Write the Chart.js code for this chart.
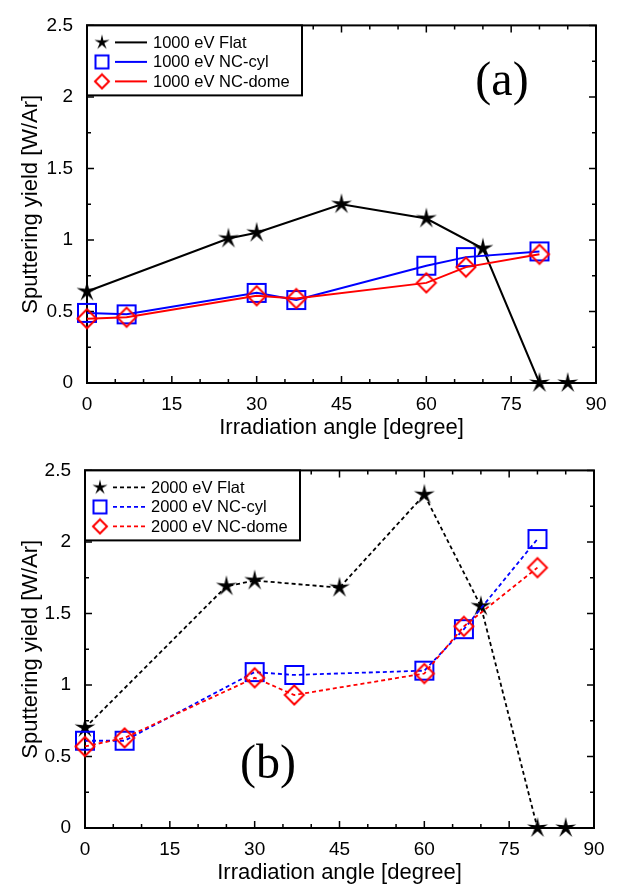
<!DOCTYPE html>
<html>
<head>
<meta charset="utf-8">
<script src="https://cdn.jsdelivr.net/npm/chart.js@4.4.0/dist/chart.umd.min.js"></script>
<style>
  html, body { margin: 0; padding: 0; background: #fff; }
  #wrap { position: relative; width: 627px; height: 890px; }
  .panel { position: absolute; left: 0; width: 627px; height: 445px; }
</style>
</head>
<body>
<div id="wrap">
  <div class="panel" style="top:0"><canvas id="chartA" width="627" height="445"></canvas></div>
  <div class="panel" style="top:445px"><canvas id="chartB" width="627" height="445"></canvas></div>
</div>
<script>
// incidence angles (degree)
const anglesFlat = [0, 25, 30, 45, 60, 70, 80, 85];
const anglesNC = [0, 7, 30, 37, 60, 67, 80];

// sputtering yield [W/Ar], 1000 eV
const flat1000 = [0.64, 1.01, 1.05, 1.25, 1.15, 0.94, 0, 0];
const cyl1000 = [0.49, 0.48, 0.63, 0.58, 0.82, 0.88, 0.92];
const dome1000 = [0.45, 0.46, 0.61, 0.59, 0.70, 0.81, 0.90];

// sputtering yield [W/Ar], 2000 eV
const flat2000 = [0.70, 1.69, 1.73, 1.68, 2.33, 1.55, 0, 0];
const cyl2000 = [0.61, 0.61, 1.09, 1.07, 1.10, 1.39, 2.02];
const dome2000 = [0.57, 0.63, 1.05, 0.93, 1.08, 1.41, 1.82];

const xTicks = [0, 15, 30, 45, 60, 75, 90];
const yTicks = [0, 0.5, 1, 1.5, 2, 2.5];

Chart.defaults.font.family = "'Liberation Sans', Arial, Helvetica, sans-serif";
Chart.defaults.color = '#000';

// marker sprites, used as pointStyle
function makeMark(kind, size, color, lw) {
    const c = document.createElement('canvas');
    const s = 2 * Math.ceil(size + lw);
    c.width = c.height = s;
    const g = c.getContext('2d');
    const m = s / 2;
    g.lineWidth = lw;
    g.strokeStyle = color;
    g.fillStyle = color;
    g.beginPath();
    if (kind === 'star') {
        for (let i = 0; i < 10; i++) {
            const r = i % 2 ? size * 0.3 : size;
            const a = -Math.PI / 2 + i * Math.PI / 5;
            g.lineTo(m + r * Math.cos(a), m + r * Math.sin(a));
        }
        g.closePath();
        g.fill();
    } else if (kind === 'square') {
        g.rect(m - size, m - size, 2 * size, 2 * size);
        g.stroke();
    } else {
        g.moveTo(m, m - size);
        g.lineTo(m + size, m);
        g.lineTo(m, m + size);
        g.lineTo(m - size, m);
        g.closePath();
        g.stroke();
    }
    return c;
}

const marks = {
    star: { plot: makeMark('star', 11, '#000', 1), legend: makeMark('star', 8, '#000', 1) },
    square: { plot: makeMark('square', 9, '#0000ff', 2), legend: makeMark('square', 6.5, '#0000ff', 2) },
    diamond: { plot: makeMark('diamond', 9.5, '#ff0000', 2), legend: makeMark('diamond', 7, '#ff0000', 2) }
};

function lineSet(label, xs, ys, color, mark, dash, order) {
    return {
        label: label,
        data: xs.map((x, i) => ({ x: x, y: ys[i] })),
        borderColor: color,
        backgroundColor: color,
        borderWidth: dash.length ? 1.8 : 2,
        borderDash: dash,
        pointStyle: marks[mark].plot,
        pointRadius: 9,
        pointHoverRadius: 9,
        tension: 0,
        clip: false,
        order: order,
        mark: mark
    };
}

// box with inward ticks on all four sides
const frameTicks = {
    id: 'frameTicks',
    beforeDatasetsDraw(chart) {
        const { ctx, chartArea: a, scales } = chart;
        ctx.save();
        ctx.strokeStyle = '#000';
        ctx.lineWidth = 2;
        ctx.strokeRect(a.left, a.top, a.right - a.left, a.bottom - a.top);
        ctx.lineWidth = 1.5;
        ctx.beginPath();
        for (let v = 0; v <= 90; v += 5) {
            const x = scales.x.getPixelForValue(v);
            const len = v % 15 === 0 ? 7 : 4;
            ctx.moveTo(x, a.bottom); ctx.lineTo(x, a.bottom - len);
            ctx.moveTo(x, a.top); ctx.lineTo(x, a.top + len);
        }
        for (let k = 0; k <= 10; k++) {
            const y = scales.y.getPixelForValue(k * 0.25);
            const len = k % 2 === 0 ? 7 : 4;
            ctx.moveTo(a.left, y); ctx.lineTo(a.left + len, y);
            ctx.moveTo(a.right, y); ctx.lineTo(a.right - len, y);
        }
        ctx.stroke();
        ctx.restore();
    }
};

// framed legend in the upper left corner
const boxLegend = {
    id: 'boxLegend',
    afterDatasetsDraw(chart, args, opts) {
        const { ctx, chartArea: a } = chart;
        const x0 = a.left, y0 = a.top;
        ctx.save();
        ctx.fillStyle = '#fff';
        ctx.fillRect(x0, y0, opts.width, opts.height);
        ctx.strokeStyle = '#000';
        ctx.lineWidth = 2;
        ctx.strokeRect(x0, y0, opts.width, opts.height);
        ctx.font = "16.5px 'Liberation Sans', Arial, sans-serif";
        ctx.textBaseline = 'middle';
        chart.data.datasets.forEach((ds, i) => {
            const y = y0 + 17 + i * 19.5;
            const img = marks[ds.mark].legend;
            ctx.drawImage(img, x0 + 15 - img.width / 2, y - img.height / 2);
            ctx.strokeStyle = ds.borderColor;
            ctx.lineWidth = ds.borderWidth;
            ctx.setLineDash(ds.borderDash);
            ctx.beginPath();
            ctx.moveTo(x0 + 28, y);
            ctx.lineTo(x0 + 60, y);
            ctx.stroke();
            ctx.setLineDash([]);
            ctx.fillStyle = '#000';
            ctx.fillText(ds.label, x0 + 66, y + 1);
        });
        ctx.restore();
    }
};

const panelTag = {
    id: 'panelTag',
    afterDraw(chart, args, opts) {
        const ctx = chart.ctx;
        ctx.save();
        ctx.font = "48px 'Liberation Serif', 'Times New Roman', serif";
        ctx.fillStyle = '#000';
        ctx.textAlign = 'center';
        ctx.textBaseline = 'alphabetic';
        ctx.fillText(opts.text, opts.x, opts.y);
        ctx.restore();
    }
};

function makePanel(id, datasets, left, right, tag) {
    return new Chart(document.getElementById(id), {
        type: 'line',
        data: { datasets: datasets },
        plugins: [frameTicks, boxLegend, panelTag],
        options: {
            responsive: false,
            animation: false,
            events: [],
            layout: { padding: { top: 14, right: 627 - right, left: 0, bottom: 0 } },
            plugins: {
                legend: { display: false },
                tooltip: { enabled: false },
                boxLegend: { width: 215, height: 70 },
                panelTag: tag
            },
            scales: {
                x: {
                    type: 'linear',
                    min: 0,
                    max: 90,
                    grid: { display: false, drawTicks: false },
                    border: { display: false },
                    afterBuildTicks: s => { s.ticks = xTicks.map(v => ({ value: v })); },
                    ticks: { padding: 10, font: { size: 19 }, maxRotation: 0, autoSkip: false, callback: v => String(v) },
                    title: { display: true, text: 'Irradiation angle [degree]', font: { size: 22 }, padding: { top: 0, bottom: 4 } },
                    afterFit: s => { s.height = 62; }
                },
                y: {
                    type: 'linear',
                    min: 0,
                    max: 2.5,
                    grid: { display: false, drawTicks: false },
                    border: { display: false },
                    afterBuildTicks: s => { s.ticks = yTicks.map(v => ({ value: v })); },
                    ticks: { padding: 14, font: { size: 19 }, callback: v => String(v) },
                    title: { display: true, text: 'Sputtering yield [W/Ar]', font: { size: 22 }, padding: { top: 18, bottom: 0 } },
                    afterFit: s => { s.width = left; }
                }
            }
        }
    });
}

makePanel('chartA', [
    lineSet('1000 eV Flat', anglesFlat, flat1000, '#000000', 'star', [], 3),
    lineSet('1000 eV NC-cyl', anglesNC, cyl1000, '#0000ff', 'square', [], 2),
    lineSet('1000 eV NC-dome', anglesNC, dome1000, '#ff0000', 'diamond', [], 1)
], 87, 596, { text: '(a)', x: 502, y: 95 });

makePanel('chartB', [
    lineSet('2000 eV Flat', anglesFlat, flat2000, '#000000', 'star', [4, 3], 3),
    lineSet('2000 eV NC-cyl', anglesNC, cyl2000, '#0000ff', 'square', [4, 3], 2),
    lineSet('2000 eV NC-dome', anglesNC, dome2000, '#ff0000', 'diamond', [4, 3], 1)
], 85, 594, { text: '(b)', x: 268, y: 333 });
</script>
</body>
</html>
